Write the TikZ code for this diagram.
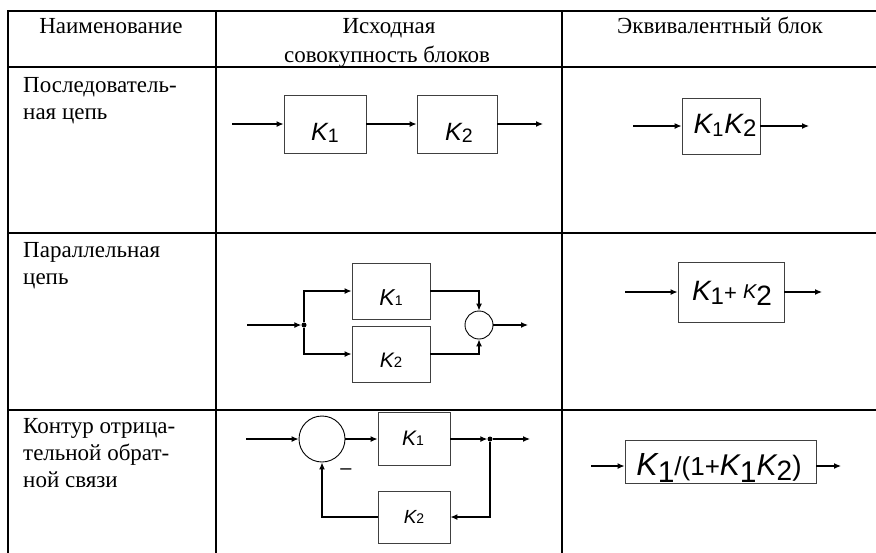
\documentclass[tikz,border=0pt]{standalone}
\usepackage{fontspec}
\setmainfont{Liberation Serif}
\newfontfamily\arfont{Liberation Sans}
\usetikzlibrary{arrows.meta}
% #1 size of K, #2 size of index, #3 drop of index (pt), #4 index
\newcommand{\Kv}[4]{{\arfont\fontsize{#1}{#1}\selectfont\itshape K}\raisebox{-#3pt}{\arfont\fontsize{#2}{#2}\selectfont #4}}
\newcommand{\Ar}[2]{{\arfont\fontsize{#1}{#1}\selectfont #2}}
\tikzset{
  tbl/.style={line width=2pt, line cap=rect},
  blk/.style={draw=black!75, line width=0.9pt, rectangle, inner sep=0pt},
  sumc/.style={draw=black, circle, line width=0.9pt, inner sep=0pt},
  con/.style={line width=1.2pt, -{Latex[length=7pt,width=6pt]}},
  dotn/.style={circle, fill=black, inner sep=0pt, minimum size=5pt},
  hdr/.style={font=\fontsize{23}{28}\selectfont, anchor=base, inner sep=0pt},
  rowt/.style={font=\fontsize{23}{27}\selectfont, anchor=base west, inner sep=0pt},
  lbl/.style={anchor=base, inner sep=0pt},
}
\begin{document}
\begin{tikzpicture}[x=1pt, y=-1pt]
\useasboundingbox (0,0) rectangle (876,552);
% table
\draw[tbl] (8,10.5) -- (876,10.5);
\draw[tbl] (8,67) -- (876,67);
\draw[tbl] (8,233) -- (876,233);
\draw[tbl] (8,410) -- (876,410);
\draw[tbl] (8,10.5) -- (8,556);
\draw[tbl] (216,10.5) -- (216,556);
\draw[tbl] (562,10.5) -- (562,556);
% headers
\node[hdr] (h1) at (111,33) {Наименование};
\node[hdr] (h2a) at (389,33) {Исходная};
\node[hdr] (h2b) at (387,62) {совокупность блоков};
\node[hdr] (h3) at (720,33) {Эквивалентный блок};
% row names
\node[rowt] (r1a) at (23,92) {Последователь-};
\node[rowt] (r1b) at (23,119) {ная цепь};
\node[rowt] (r2a) at (23,257) {Параллельная};
\node[rowt] (r2b) at (23,284) {цепь};
\node[rowt] (r3a) at (23,433) {Контур отрица-};
\node[rowt] (r3b) at (23,460) {тельной обрат-};
\node[rowt] (r3c) at (23,487) {ной связи};

% ---- row 1: series
\node[blk, minimum width=82pt, minimum height=58pt] (a1) at (325,124) {};
\node[blk, minimum width=80pt, minimum height=58pt] (a2) at (457,124) {};
\node[lbl] (a1l) at (325,140) {\Kv{25}{19.5}{2}{1}};
\node[lbl] (a2l) at (459,140) {\Kv{25}{19.5}{2}{2}};
\coordinate (i1) at (232,124);
\coordinate (o1) at (543,124);
\draw[con] (i1) -- (a1);
\draw[con] (a1) -- (a2);
\draw[con] (a2) -- (o1);
% equivalent 1
\node[blk, minimum width=78pt, minimum height=56pt] (e1) at (721,126) {};
\node[lbl] (e1l) at (725,133) {\Kv{28}{20}{3}{1}\hspace{1pt}\Kv{28}{24}{3}{2}};
\coordinate (ie1) at (633,126);
\coordinate (oe1) at (809,126);
\draw[con] (ie1) -- (e1);
\draw[con] (e1) -- (oe1);

% ---- row 2: parallel
\node[blk, minimum width=78pt, minimum height=56pt] (b1) at (391,291) {};
\node[blk, minimum width=78pt, minimum height=56pt] (b2) at (391,354) {};
\node[lbl] (b1l) at (391,305) {\Kv{23}{14}{0}{1}};
\node[lbl] (b2l) at (391,367) {\Kv{21}{15}{0}{2}};
\node[sumc, minimum size=28pt] (s2) at (479,325) {};
\node[dotn] (j2) at (304,325) {};
\coordinate (i2) at (247,325);
\coordinate (o2) at (528,325);
\draw[con] (i2) -- (j2);
\draw[con] (j2) |- (b1);
\draw[con] (j2) |- (b2);
\draw[con] (b1) -| (s2);
\draw[con] (b2) -| (s2);
\draw[con] (s2) -- (o2);
% equivalent 2
\node[blk, minimum width=106pt, minimum height=60pt] (e2) at (731,292) {};
\node[lbl] (e2l) at (732,300) {\Kv{28}{24}{4}{1}\Ar{22}{+ }\raisebox{2pt}{\Ar{20}{\itshape K}}\raisebox{-5pt}{\Ar{28}{2}}};
\coordinate (ie2) at (625,292);
\coordinate (oe2) at (822,292);
\draw[con] (ie2) -- (e2);
\draw[con] (e2) -- (oe2);

% ---- row 3: negative feedback
\node[sumc, minimum size=46pt] (s3) at (322,439) {};
\node[blk, minimum width=72pt, minimum height=53pt] (c1) at (414,439) {};
\node[blk, minimum width=72pt, minimum height=52pt] (c2) at (414,517) {};
\node[lbl] (c1l) at (413,445) {\Kv{21}{14}{0}{1}};
\node[lbl] (c2l) at (414,523) {\Kv{19}{14}{0}{2}};
\node[dotn] (j3) at (490,439) {};
\coordinate (i3) at (246,439);
\coordinate (o3) at (530,439);
\node[inner sep=0pt] (mn) at (346,472) {\Ar{20}{–}};
\draw[con] (i3) -- (s3);
\draw[con] (s3) -- (c1);
\draw[con] (c1) -- (j3);
\draw[con] (j3) -- (o3);
\draw[con] (j3) |- (c2);
\draw[con] (c2) -| (s3);
% equivalent 3
\node[blk, minimum width=191pt, minimum height=43pt] (e3) at (720.5,461.5) {};
\node[lbl] (e3l) at (719,475) {\Kv{32}{30}{7}{1}\Ar{26}{/(1+}\Kv{30}{30}{7}{1}\Kv{30}{28}{5}{2}\Ar{28}{)}};
\coordinate (ie3) at (591,466);
\coordinate (oe3) at (841,466);
\draw[con] (ie3) -- (ie3 -| e3.west);
\draw[con] (oe3 -| e3.east) -- (oe3);
\end{tikzpicture}
\end{document}
